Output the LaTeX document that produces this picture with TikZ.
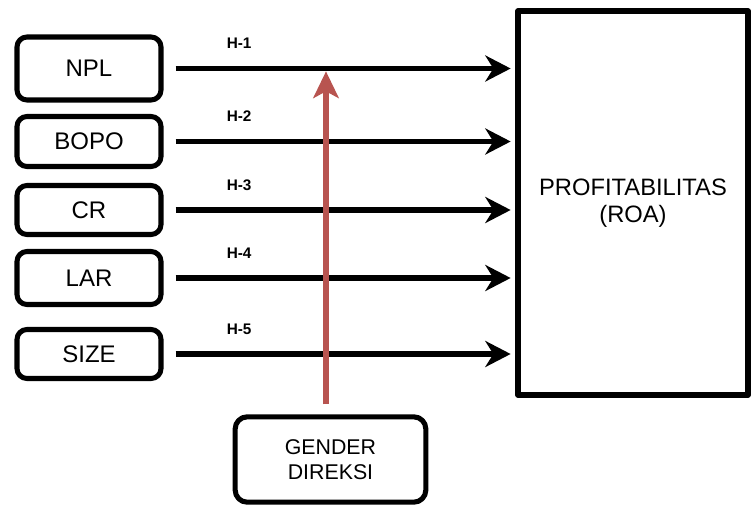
\documentclass[tikz,border=0pt]{standalone}
\usepackage{fontspec}
\setmainfont{Liberation Sans}
\usetikzlibrary{arrows.meta}
\definecolor{modred}{HTML}{B85450}
\tikzset{
  varbox/.style={draw,line width=3.8pt,rounded corners=7.5pt,minimum width=108pt,
    inner sep=0pt,font=\fontsize{18}{21}\selectfont},
  hyp/.style={line width=4pt,-{Stealth[length=19pt,width=19.5pt,inset=6pt]},
    shorten <=9pt,shorten >=3.5pt},
  hlabel/.style={font=\bfseries\fontsize{11.5}{13}\selectfont,above=9.5pt,pos=0.215},
  moder/.style={modred,line width=5pt,-{Stealth[length=20pt,width=19pt,inset=5pt]},
    shorten <=7.5pt,shorten >=4pt}
}
\begin{document}
\begin{tikzpicture}[x=0.75pt,y=-0.75pt,line join=round]
	\useasboundingbox (0,0) rectangle (751,508);
	% dependent variable
	\node[draw,line width=4.5pt,minimum width=172pt,minimum height=288pt,align=center,
	  font=\fontsize{17.8}{20}\selectfont] (roa) at (633,203) {PROFITABILITAS\\(ROA)};
	% moderator
	\node[varbox,rounded corners=9pt,minimum width=143pt,minimum height=64pt,align=center,
	  font=\fontsize{16}{18.75}\selectfont] (gender) at (330.5,459.5) {GENDER\\DIREKSI};
	% independent variables and hypotheses
	\foreach \n/\t/\y/\h/\k in {npl/NPL/68.5/63/1,bopo/BOPO/141.5/50/2,cr/CR/210/49/3,
	                          lar/LAR/278/53/4,size/SIZE/354/49/5}{
		\node[varbox,minimum height=\h*0.75pt] (\n) at (89,\y) {\t};
		\draw[hyp] (\n) -- (\n -| roa.west) node[hlabel] {H-\k};
	}
	\coordinate (mod) at (326,66);
	\draw[moder] (gender.north -| mod) -- (mod);
\end{tikzpicture}
\end{document}
